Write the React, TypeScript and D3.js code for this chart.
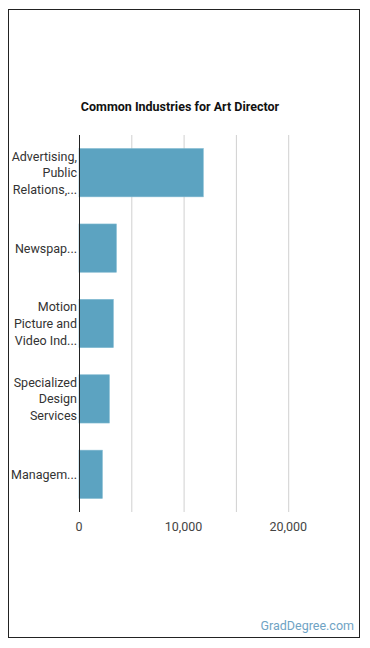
import React, { useEffect, useRef } from "react";
import * as d3 from "d3";

const industries = [
  "Advertising, Public Relations, and Related Services",
  "Newspaper, Periodical, Book, and Directory Publishers",
  "Motion Picture and Video Industries",
  "Specialized Design Services",
  "Management of Companies and Enterprises",
];
const industryLabels = [
  ["Advertising,", "Public", "Relations,..."],
  ["Newspap..."],
  ["Motion", "Picture and", "Video Ind..."],
  ["Specialized", "Design", "Services"],
  ["Managem..."],
];
const employees = [11880, 3570, 3280, 2900, 2230];
const gridValues = [0, 5000, 10000, 15000, 20000];
const tickValues = [0, 10000, 20000];

const W = 370;
const H = 648;
const margin = { top: 135, left: 79, right: 340.5, bottom: 512 };

export default function App() {
  const ref = useRef<SVGSVGElement>(null);

  useEffect(() => {
    const svg = d3.select(ref.current);
    svg.selectAll("*").remove();

    const x = d3.scaleLinear().domain([0, 25000]).range([margin.left, margin.right]);
    const y = d3
      .scaleBand()
      .domain(industries)
      .range([margin.top, margin.bottom])
      .paddingInner(0.36)
      .paddingOuter(0.18);

    // frame
    svg
      .append("rect")
      .attr("x", 8.5)
      .attr("y", 9.5)
      .attr("width", 351)
      .attr("height", 628)
      .attr("fill", "#fff")
      .attr("stroke", "#222")
      .attr("stroke-width", 1);

    svg
      .append("text")
      .attr("x", 180)
      .attr("y", 111)
      .attr("text-anchor", "middle")
      .attr("font-size", 12.5)
      .attr("font-weight", "bold")
      .attr("fill", "#111")
      .text("Common Industries for Art Director");

    // vertical gridlines
    svg
      .append("g")
      .selectAll("line")
      .data(gridValues.slice(1))
      .enter()
      .append("line")
      .attr("x1", (d) => x(d) + 0.5)
      .attr("x2", (d) => x(d) + 0.5)
      .attr("y1", margin.top)
      .attr("y2", margin.bottom)
      .attr("stroke", "#d0d0d0")
      .attr("stroke-width", 1);

    svg
      .append("g")
      .selectAll("rect")
      .data(employees)
      .enter()
      .append("rect")
      .attr("x", x(0))
      .attr("y", (d, i) => y(industries[i]) as number)
      .attr("width", (d) => x(d) - x(0))
      .attr("height", y.bandwidth())
      .attr("fill", "#5ca3c1")
      .attr("stroke", "#7db8d0")
      .attr("stroke-width", 0.6);

    // category axis line
    svg
      .append("line")
      .attr("x1", x(0) + 0.5)
      .attr("x2", x(0) + 0.5)
      .attr("y1", margin.top)
      .attr("y2", margin.bottom)
      .attr("stroke", "#222");

    // wrapped category labels
    const lineH = 16.7;
    industryLabels.forEach((lines, i) => {
      const cy = (y(industries[i]) as number) + y.bandwidth() / 2;
      const t = svg
        .append("text")
        .attr("text-anchor", "end")
        .attr("font-size", 12.5)
        .attr("fill", "#333");
      lines.forEach((ln, j) => {
        t.append("tspan")
          .attr("x", 77)
          .attr("y", cy + (j - (lines.length - 1) / 2) * lineH + 4.5)
          .text(ln);
      });
    });

    svg
      .append("g")
      .selectAll("text")
      .data(tickValues)
      .enter()
      .append("text")
      .attr("x", (d) => x(d))
      .attr("y", 531)
      .attr("text-anchor", "middle")
      .attr("font-size", 12.5)
      .attr("fill", "#444")
      .text((d) => d3.format(",")(d));

    svg
      .append("text")
      .attr("x", 354)
      .attr("y", 630)
      .attr("text-anchor", "end")
      .attr("font-size", 12.5)
      .attr("fill", "#6fa3c4")
      .text("GradDegree.com");
  }, []);

  return (
    <svg
      ref={ref}
      width={W}
      height={H}
      style={{ position: "absolute", left: 0, top: 0, fontFamily: "Roboto, sans-serif" }}
    />
  );
}
